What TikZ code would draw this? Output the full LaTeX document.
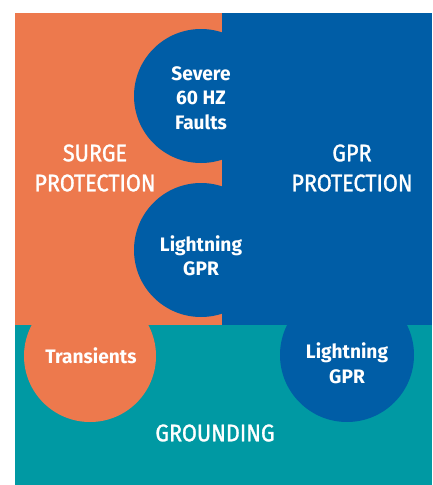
\documentclass[tikz,border=0pt]{standalone}
\usepackage{fontspec}
\setmainfont{Fira Sans}
\newfontfamily\biglbl{Fira Sans}[FakeStretch=0.9,FakeBold=1.2]
\newfontfamily\cirlbl{Fira Sans}[FakeStretch=0.98]
\definecolor{surge}{RGB}{237,121,77}
\definecolor{gpr}{RGB}{0,93,166}
\definecolor{grnd}{RGB}{0,153,163}
\begin{document}
\begin{tikzpicture}[x=1pt,y=-1pt,
  bubble/.style={circle,draw=none,minimum size=134pt,inner sep=0pt},
  biglabel/.style={text=white,align=center,font=\biglbl\fontsize{24}{30}\selectfont},
  smalllabel/.style={text=white,align=center,font=\cirlbl\bfseries\fontsize{19.5}{24.5}\selectfont}]
\useasboundingbox (0,0) rectangle (433,485);
\fill[surge] (15,13) rectangle (222,325);
\fill[gpr] (222,13) rectangle (432,325);
\fill[grnd] (15,325) rectangle (432,485);
\node[bubble,fill=gpr] (c1) at (201,96) {};
\node[bubble,fill=gpr] (c2) at (201,250) {};
\node[bubble,fill=surge,minimum size=132pt] (c3) at (90,356) {};
\node[bubble,fill=gpr] (c4) at (347,355) {};
\node[smalllabel] (t1) at (201,98) {Severe\\60 HZ\\Faults};
\node[smalllabel] (t2) at (201,256) {Lightning\\GPR};
\node[smalllabel] (t3) at (91,356) {Transients};
\node[smalllabel] (t4) at (347,363.5) {Lightning\\GPR};
\node[biglabel] (s) at (95,168) {SURGE\\PROTECTION};
\node[biglabel] (g) at (352,168) {GPR\\PROTECTION};
\node[biglabel] (gr) at (215,433) {GROUNDING};
\end{tikzpicture}
\end{document}
